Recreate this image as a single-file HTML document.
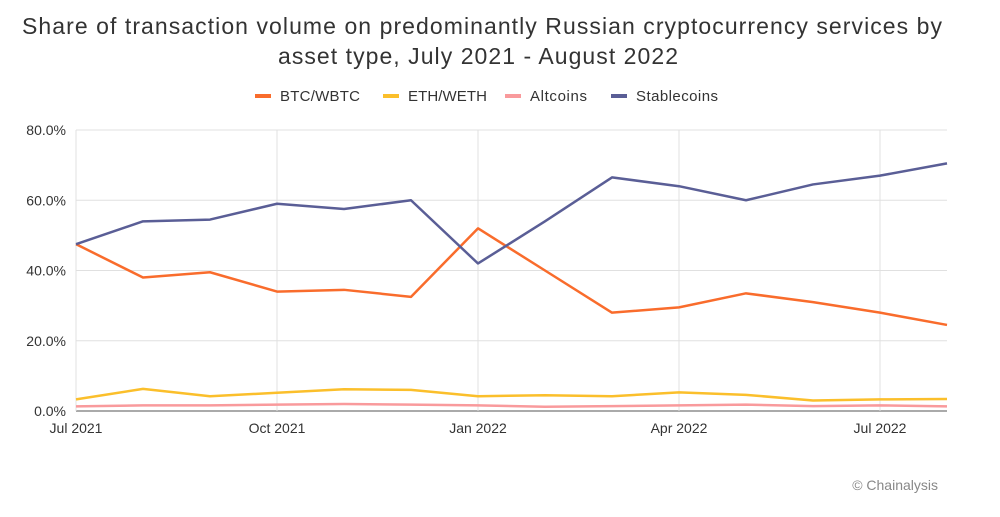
<!DOCTYPE html>
<html><head><meta charset="utf-8"><style>
body{margin:0;background:#fff;font-family:"Liberation Sans",sans-serif;}
#wrap{position:relative;width:1000px;height:517px;overflow:hidden;}
</style></head><body>
<div id="wrap">
<svg id="c" width="1000" height="517"></svg>
</div>
<script>
const months=["Jul 2021","Aug 2021","Sep 2021","Oct 2021","Nov 2021","Dec 2021","Jan 2022","Feb 2022","Mar 2022","Apr 2022","May 2022","Jun 2022","Jul 2022","Aug 2022"];
const xTickLabels=["Jul 2021","Oct 2021","Jan 2022","Apr 2022","Jul 2022"];
const yTicks=[0,20,40,60,80];
const btc=[47.5,38,39.5,34,34.5,32.5,52,40,28,29.5,33.5,31,28,24.5];
const eth=[3.3,6.3,4.2,5.2,6.2,6,4.2,4.5,4.2,5.3,4.6,3,3.3,3.4];
const alt=[1.3,1.6,1.6,1.8,2,1.8,1.6,1.2,1.4,1.6,1.8,1.4,1.6,1.3];
const stable=[47.5,54,54.5,59,57.5,60,42,54,66.5,64,60,64.5,67,70.5];
const seriesNames=["BTC/WBTC","ETH/WETH","Altcoins","Stablecoins"];
const NS="http://www.w3.org/2000/svg";
const svg=document.getElementById('c');
const x=i=>76+i*(947-76)/13;
const y=v=>411-v*(411-130)/80;
function mk(t,a,txt){const e=document.createElementNS(NS,t);for(const k in a)e.setAttribute(k,a[k]);if(txt!==undefined)e.textContent=txt;svg.appendChild(e);return e;}
let t=mk('text',{x:22,y:34,'font-size':23,fill:'#333',textLength:920,lengthAdjust:'spacing'},'Share of transaction volume on predominantly Russian cryptocurrency services by');

t=mk('text',{x:278,y:64,'font-size':23,fill:'#333',textLength:400,lengthAdjust:'spacing'},'asset type, July 2021 - August 2022');

yTicks.forEach(v=>{const l=mk('line',{x1:76,x2:947,y1:y(v),y2:y(v),stroke:v===0?'#555':'#e0e0e0','stroke-width':1});

const tx=mk('text',{x:66,y:y(v)+5,'text-anchor':'end','font-size':14,fill:'#333'},v.toFixed(1)+'%');
});
xTickLabels.forEach(lb=>{const i=months.indexOf(lb);
const l=mk('line',{x1:x(i),x2:x(i),y1:130,y2:411,stroke:'#e0e0e0'});

const tx=mk('text',{x:x(i),y:433,'text-anchor':'middle','font-size':14,fill:'#333'},lb);
});
const colors=["#f96c2c","#fbbf2b","#f99a9c","#5a5e96"];
[btc,eth,alt,stable].forEach((s,k)=>{
const p=mk('polyline',{points:s.map((v,i)=>x(i)+','+y(v)).join(' '),fill:'none',stroke:colors[k],'stroke-width':2.5,'stroke-linejoin':'round'});

});
const lx=[255,383,505,611];
const lw=[80,79,57,82];
seriesNames.forEach((n,k)=>{
const g=mk('line',{x1:lx[k],x2:lx[k]+16,y1:96,y2:96,stroke:colors[k],'stroke-width':4});

const tx=mk('text',{x:lx[k]+25,y:101,'font-size':15,fill:'#333',textLength:lw[k],lengthAdjust:'spacing'},n);
});
t=mk('text',{x:938,y:490,'text-anchor':'end','font-size':14,fill:'#888'},'© Chainalysis');

</script>
</body></html>
